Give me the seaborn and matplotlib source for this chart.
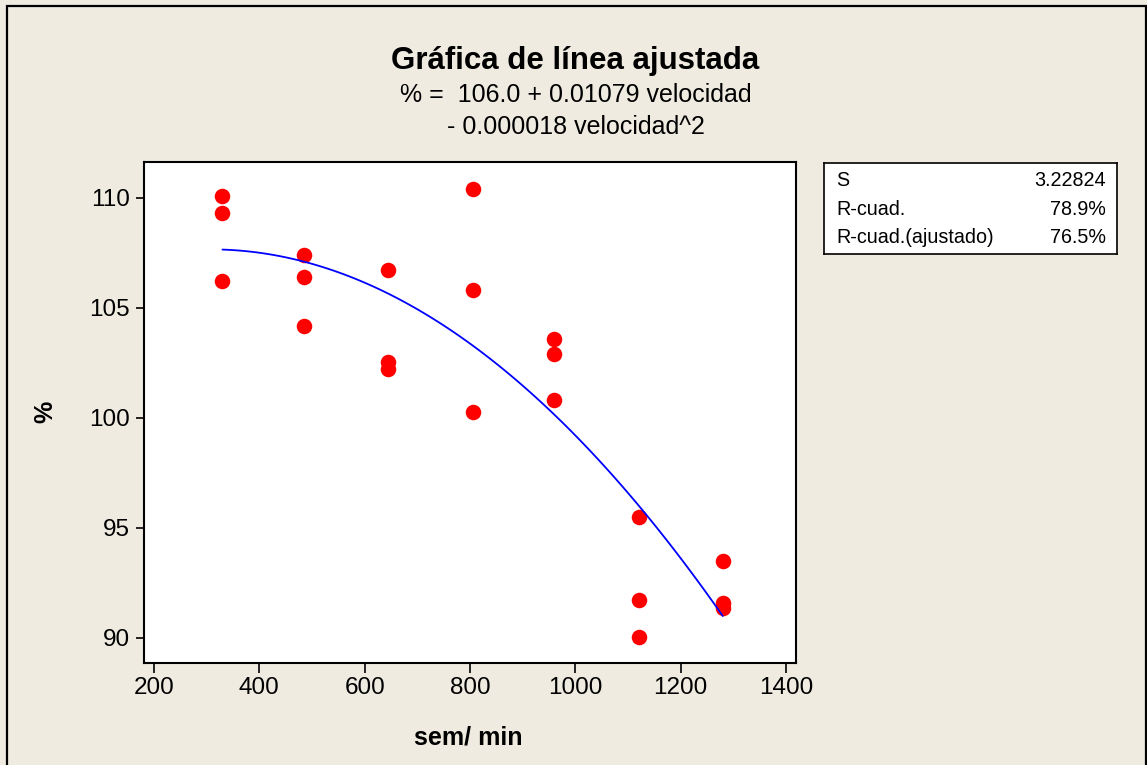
import numpy as np
import pandas as pd
import seaborn as sns
import matplotlib.pyplot as plt
from matplotlib.patches import Rectangle

# velocidad (sem/min) and %
velocidad = [330, 330, 330,
             485, 485, 485,
             645, 645, 645,
             805, 805, 805,
             960, 960, 960,
             1120, 1120, 1120,
             1280, 1280, 1280]
porcentaje = [110.1, 109.3, 106.2,
              107.4, 106.4, 104.15,
              106.7, 102.55, 102.2,
              110.4, 105.8, 100.25,
              103.6, 102.9, 100.8,
              95.5, 91.7, 90.05,
              93.5, 91.6, 91.35]

x_ticks = [200, 400, 600, 800, 1000, 1200, 1400]
y_ticks = [90, 95, 100, 105, 110]

stat_names = ["S", "R-cuad.", "R-cuad.(ajustado)"]
stat_values = ["3.22824", "78.9%", "76.5%"]

df = pd.DataFrame({"velocidad": velocidad, "pct": porcentaje})

sns.set_style("ticks")
plt.rcParams['font.family'] = ['Liberation Sans', 'DejaVu Sans']
plt.rcParams['text.color'] = 'black'
plt.rcParams['axes.labelcolor'] = 'black'
plt.rcParams['xtick.color'] = 'black'
plt.rcParams['ytick.color'] = 'black'
bg = "#EFEBE1"

fig = plt.figure(figsize=(11.47, 7.65), dpi=100, facecolor=bg)
ax = fig.add_axes([0.1255, 0.1333, 0.5685, 0.6553])
ax.set_facecolor("white")

sns.regplot(data=df, x="velocidad", y="pct", order=2, ci=None, ax=ax,
            scatter_kws=dict(color="#FF0000", s=125, linewidths=0, alpha=1),
            line_kws=dict(color="#0000FF", lw=1.3))

ax.set_xlim(181, 1419)
ax.set_ylim(88.85, 111.64)
ax.set_xticks(x_ticks)
ax.set_yticks(y_ticks)
ax.tick_params(axis="both", direction="out", labelsize=17.5, width=1.2,
               color="black", labelcolor="black")
ax.tick_params(axis="x", length=7, pad=3)
ax.tick_params(axis="y", length=6, pad=4)
for sp in ax.spines.values():
    sp.set_visible(True)
    sp.set_linewidth(1.5)
    sp.set_color("black")

ax.set_xlabel("sem/ min", fontsize=18, fontweight="bold", color="black")
ax.set_ylabel("%", fontsize=18, fontweight="bold", color="black")
ax.xaxis.set_label_coords(0.497, -0.125)
ax.yaxis.set_label_coords(-0.133, 0.5)

# titles
fig.text(0.5017, 1 - 61.5 / 765, "Gráfica de línea ajustada", ha="center", va="center",
         fontsize=22.5, fontweight="bold", color="black")
fig.text(0.5017, 1 - 95 / 765, "% =  106.0 + 0.01079 velocidad", ha="center", va="center",
         fontsize=18, color="black")
fig.text(0.5017, 1 - 127 / 765, "- 0.000018 velocidad^2", ha="center", va="center",
         fontsize=18, color="black")

# stats box
box = fig.add_axes([824 / 1147, 1 - 254 / 765, 292.7 / 1147, 90.7 / 765])
box.set_facecolor("white")
box.set_xticks([])
box.set_yticks([])
for sp in box.spines.values():
    sp.set_linewidth(1.2)
    sp.set_color("black")
rows_y = [0.81, 0.495, 0.185]
for name, val, yy in zip(stat_names, stat_values, rows_y):
    box.text(0.043, yy, name, ha="left", va="center", fontsize=14.2,
             color="black", transform=box.transAxes)
    box.text(0.962, yy, val, ha="right", va="center", fontsize=14.2,
             color="black", transform=box.transAxes)

# outer frame
fig.patches.append(Rectangle((7 / 1147, -0.05), 1138.5 / 1147, 1.05 - 6.5 / 765,
                             transform=fig.transFigure, fill=False,
                             edgecolor="black", linewidth=1.6))

fig.savefig("out.png", dpi=100, facecolor=bg)
